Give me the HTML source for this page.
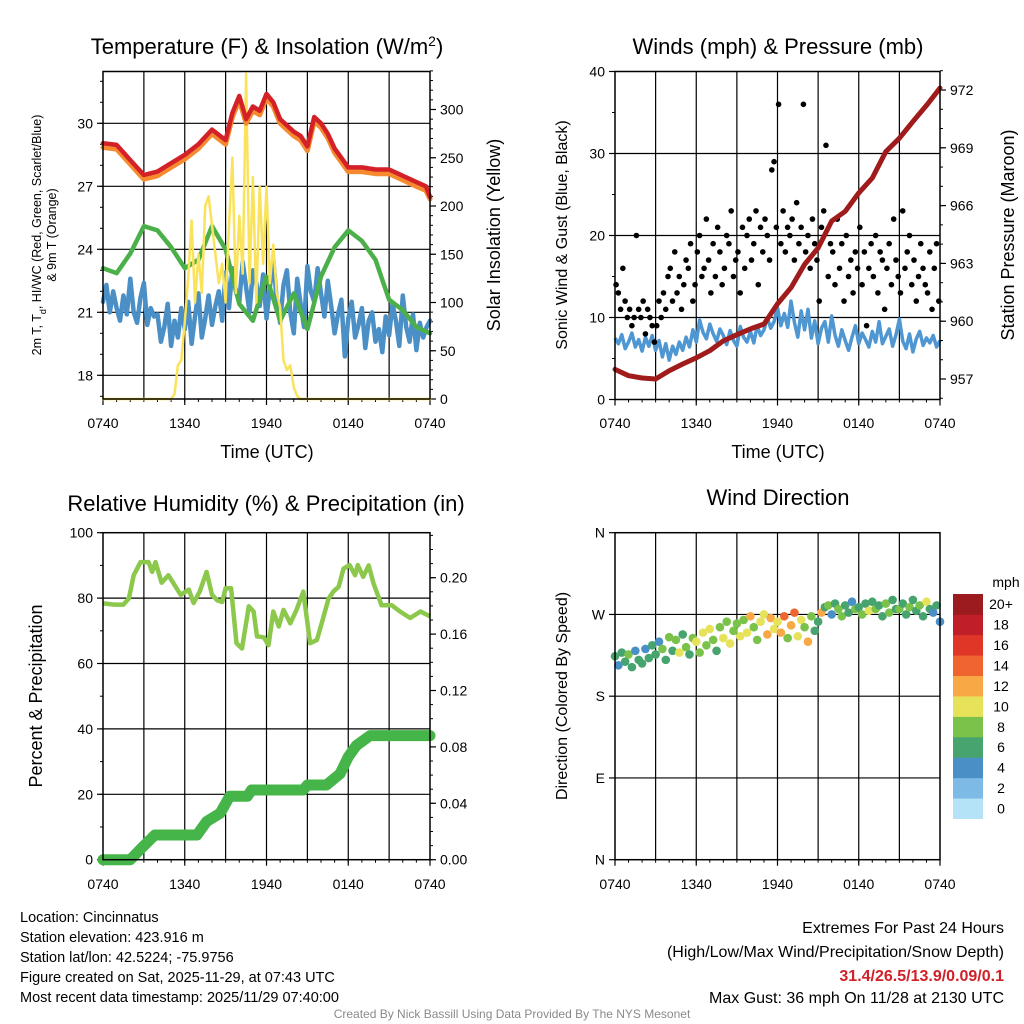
<!DOCTYPE html>
<html><head><meta charset="utf-8">
<style>
html,body{margin:0;padding:0;background:#fff;}
svg{display:block;font-family:"Liberation Sans",Arial,sans-serif;}
</style></head>
<body>
<svg id="chart" width="1024" height="1024" viewBox="0 0 1024 1024" xmlns="http://www.w3.org/2000/svg">
<rect width="1024" height="1024" fill="#fff"/>
<g id="layer"></g>
<text x="267" y="54" font-size="22" text-anchor="middle">Temperature (F) &amp; Insolation (W/m<tspan baseline-shift="super" font-size="14">2</tspan>)</text>
<text x="778" y="54" font-size="22" text-anchor="middle">Winds (mph) &amp; Pressure (mb)</text>
<text x="266" y="511" font-size="22" text-anchor="middle">Relative Humidity (%) &amp; Precipitation (in)</text>
<text x="778" y="505" font-size="22" text-anchor="middle">Wind Direction</text>
<text x="267" y="458" font-size="18" text-anchor="middle">Time (UTC)</text>
<text x="778" y="458" font-size="18" text-anchor="middle">Time (UTC)</text>
<text transform="translate(41,235) rotate(-90)" font-size="12.5" text-anchor="middle">2m T, T<tspan baseline-shift="sub" font-size="9">d</tspan>, HI/WC (Red, Green, Scarlet/Blue)</text>
<text transform="translate(56,235) rotate(-90)" font-size="12.5" text-anchor="middle">&amp; 9m T (Orange)</text>
<text transform="translate(500,235) rotate(-90)" font-size="18" text-anchor="middle">Solar Insolation (Yellow)</text>
<text transform="translate(567,235) rotate(-90)" font-size="16" text-anchor="middle">Sonic Wind &amp; Gust (Blue, Black)</text>
<text transform="translate(1014,235) rotate(-90)" font-size="18" text-anchor="middle">Station Pressure (Maroon)</text>
<text transform="translate(42,696) rotate(-90)" font-size="18" text-anchor="middle">Percent &amp; Precipitation</text>
<text transform="translate(567,696) rotate(-90)" font-size="16" text-anchor="middle">Direction (Colored By Speed)</text>
<g font-size="14.5">
<text x="20" y="922">Location: Cincinnatus</text>
<text x="20" y="942">Station elevation: 423.916 m</text>
<text x="20" y="962">Station lat/lon: 42.5224; -75.9756</text>
<text x="20" y="982">Figure created on Sat, 2025-11-29, at 07:43 UTC</text>
<text x="20" y="1002">Most recent data timestamp: 2025/11/29 07:40:00</text>
</g>
<g font-size="16" text-anchor="end">
<text x="1004" y="933">Extremes For Past 24 Hours</text>
<text x="1004" y="957">(High/Low/Max Wind/Precipitation/Snow Depth)</text>
<text x="1004" y="981" fill="#d02028" font-weight="bold">31.4/26.5/13.9/0.09/0.1</text>
<text x="1004" y="1003">Max Gust: 36 mph On 11/28 at 2130 UTC</text>
</g>
<text x="512" y="1018" font-size="12" fill="#8a8a8a" text-anchor="middle">Created By Nick Bassill Using Data Provided By The NYS Mesonet</text>
</svg>
<script>
const xTickLabels = ["0740","1340","1940","0140","0740"];
const redTimes = [0,1,2,3,4,5,6,7,8,9,9.5,10,10.5,11,11.5,12,12.5,13,14,14.5,15,15.5,16,16.5,17,18,19,20,21,22,23,23.7,24];
const redTemp  = [29.05,28.97,28.25,27.54,27.7,28.1,28.5,29.0,29.7,29.2,30.5,31.3,30.2,30.8,30.6,31.4,31.0,30.2,29.6,29.4,28.9,30.3,30.0,29.5,28.8,27.9,27.9,27.8,27.8,27.5,27.2,27.0,26.5];
const orangeTemp=[28.85,28.77,28.05,27.34,27.5,27.9,28.3,28.8,29.5,29.0,30.3,31.1,30.0,30.6,30.4,31.2,30.8,30.0,29.4,29.2,28.7,30.1,29.8,29.3,28.6,27.7,27.7,27.6,27.6,27.3,27.0,26.8,26.4];
const dewTimes = [0,1,2,3,4,5,6,7,8,9,10,11,12,13,14,15,16,17,18,19,20,21,22,23,24];
const dewTemp  = [23.1,22.86,23.8,25.1,24.9,24.1,23.1,23.5,25.1,24.0,21.4,20.6,22.7,20.6,21.9,20.2,22.7,24.1,24.9,24.4,23.5,21.6,21.1,20.3,20.0];
const windChill = [21.5,22.3,21.0,22.0,21.2,20.6,21.8,20.9,22.6,21.0,20.5,21.7,22.4,20.4,21.2,20.8,20.9,19.6,20.3,21.4,19.4,20.6,19.8,21.2,20.2,21.5,19.5,20.8,21.9,19.8,20.7,21.8,20.4,21.3,22.0,20.6,22.9,21.2,23.1,22.0,21.5,23.4,22.2,21.0,23.0,22.4,21.3,22.8,20.7,22.2,23.5,21.6,20.5,22.3,23.0,21.0,20.0,22.6,21.4,20.3,23.2,22.0,21.5,23.1,21.9,20.8,22.5,21.3,20.0,20.9,21.6,18.9,20.7,21.5,19.8,20.4,21.2,19.3,20.6,21.0,19.6,20.2,19.1,20.8,19.9,21.4,20.6,19.4,21.8,20.3,19.6,20.9,19.2,20.5,19.8,20.3,20.6];
const insolTimes = [0,5,5.25,5.5,5.75,6,6.25,6.5,6.75,7,7.25,7.5,7.75,8,8.25,8.5,8.75,9,9.25,9.5,9.75,10,10.25,10.5,10.75,11,11.25,11.5,11.75,12,12.25,12.5,12.75,13,13.25,13.5,13.75,14,14.25,14.5,24];
const insolVals  = [0,0,5,35,40,80,125,185,100,150,110,200,210,180,150,120,140,100,180,250,110,190,130,337,120,230,100,220,140,220,120,160,110,95,40,30,35,12,3,0,0];
const windSpeed = [7.5,6.8,7.9,6.2,7.0,8.1,6.4,7.3,5.9,7.6,6.5,7.8,6.0,7.2,5.2,6.8,4.8,6.5,5.5,7.0,6.0,7.6,6.4,8.5,7.0,9.7,8.2,7.4,9.2,8.0,7.1,8.6,7.8,6.7,8.4,7.2,6.5,8.9,7.6,7.0,8.3,6.9,9.0,7.8,8.5,10.0,8.7,9.5,11.2,9.0,10.5,8.8,12.0,9.4,7.6,10.8,8.5,11.0,7.5,9.6,6.8,8.7,9.5,7.0,10.2,7.8,6.5,8.5,7.2,6.0,7.6,9.0,6.8,8.1,7.3,6.4,8.3,7.0,9.5,6.8,7.7,8.6,6.5,7.9,9.8,7.1,6.2,8.0,5.8,7.4,8.3,6.6,7.5,6.9,7.8,6.4,7.2];
const gustSpeed = [14,13,11,16,12,10, 11,9,10,20,11,10, 12,8,11,10,9,7, 9,12,10,13,11,15, 16,12,18,13,15,11, 14,17,16,19,12,14, 18,20,15,16,22,17, 13,19,15,21,18,14, 16,20,19,23,15,17, 18,13,21,16,20,22, 17,19,23,14,21,18, 22,20,17,28,29,21, 36,19,23,18,21,20, 22,17,24,19,21,36, 18,20,16,22,19,17, 12,21,23,31,15,19, 18,14,22,16,19,12, 20,15,17,13,18,16, 21,14,18,9,16,19, 15,20,13,18,17,11, 16,19,14,22,17,15, 13,23,16,18,20,14, 17,12,15,19,16,14, 13,18,11,16,19,12];
const presTimes = [0,1,2,3,4,5,6,7,8,9,10,11,12,13,14,15,16,17,18,19,20,21,22,23,24];
const pressure  = [957.5,957.17,957.05,957.0,957.43,957.78,958.1,958.47,958.98,959.3,959.6,959.85,960.9,961.74,962.95,963.8,965.2,965.7,966.66,967.43,968.8,969.5,970.36,971.2,972.1];
const rhTimes = [0,0.8,1.5,1.9,2.25,2.75,3.35,3.6,3.85,4.3,4.8,5.7,6.3,6.65,7.1,7.6,8.0,8.4,8.75,9.0,9.4,9.8,10.2,10.7,11.05,11.3,11.8,12.15,12.5,12.9,13.25,13.75,14.2,14.7,15.2,15.7,16.05,16.55,16.9,17.3,17.65,18.1,18.5,18.7,19.1,19.5,19.85,20.45,21.2,21.8,22.55,23.3,24];
const rhVals  = [78.4,78,78,79.9,87,91,91,88,91,84.7,87,81,82.6,78.5,82,88,81,79.3,78.8,83,83,66.2,64.6,77.5,75.9,68.3,68,65.6,75.9,71.3,76.4,72.3,76.4,82,66.2,67.2,72.3,79.8,82,83.5,89,90.1,87,90.1,86.5,90,84.5,77.8,77.8,75.9,73.9,75.9,74.4];
const precipTimes = [0,2.0,2.8,3.8,6.9,7.6,8.6,9.3,10.6,10.9,14.7,15.0,16.4,17.4,18.0,18.6,19.6,24];
const precipVals  = [0,0,0.008,0.0175,0.0175,0.027,0.033,0.045,0.045,0.0494,0.0494,0.053,0.053,0.061,0.073,0.081,0.088,0.088];
const dirValues = [224,214,228,218,226,212,230,220,216,232,222,236, 226,240,232,220,245,230,242,228,248,234,226,244, 240,228,250,236,254,242,230,256,244,262,238,252, 260,246,264,250,268,256,242,262,270,248,266,254, 262,250,268,244,258,272,246,264,256,240,268,252, 262,272,278,280,270,282,276,268,280,272,284,276, 278,270,282,274,284,276,280,268,282,272,286,276, 276,282,270,278,286,274,280,268,284,276,272,280,262];
const dirSpeeds = [6,5,7,6,8,6,5,7,6,4,7,6, 7,5,8,7,9,6,8,10,7,8,6,9, 10,9,10,8,11,9,7,8,10,9,11,8, 9,10,8,10,12,8,9,11,10,13,12,11, 11,12,15,9,13,14,10,11,9,12,8,7, 6,12,7,8,5,7,8,9,7,6,5,8, 7,8,6,10,7,8,6,7,9,8,7,6, 8,7,6,9,7,6,8,7,10,6,4,7,4];
const speedColors = ["#b4e3f7","#7dbbe6","#4a8fc6","#48a46f","#7bc24a","#e6e25a","#f8a845","#f06430","#e03628","#c11f28","#9b1b1e"];
const colorbarLabels = ["0","2","4","6","8","10","12","14","16","18","20+"];

const NS="http://www.w3.org/2000/svg";
const layer=document.getElementById('layer');
function mk(tag,attrs,parent){const e=document.createElementNS(NS,tag);for(const k in attrs)e.setAttribute(k,attrs[k]);(parent||layer).appendChild(e);return e;}
function lin(d0,d1,r0,r1){return v=>r0+(v-d0)*(r1-r0)/(d1-d0);}
function path(xs,ys,fx,fy){return xs.map((t,i)=>(i?'L':'M')+fx(t).toFixed(1)+','+fy(ys[i]).toFixed(1)).join('');}
function evenTimes(n){return Array.from({length:n},(_,i)=>i*24/(n-1));}
function frame(name){
  const g=mk('g',{});
  
  
  return g;
}
function xAxis(g,x0,x1,y1,labY,panel){
  const fx=lin(0,24,x0,x1);
  for(let h=3;h<24;h+=3){mk('line',{x1:fx(h),x2:fx(h),y1:y1,y2:0,stroke:'#000','stroke-width':1.2},g);}
  xTickLabels.forEach((lab,i)=>{
    const t=mk('text',{x:fx(i*6),y:labY,'font-size':14,'text-anchor':'middle'});
    t.textContent=lab;
    
    
    mk('line',{x1:fx(i*6),x2:fx(i*6),y1:y1,y2:y1+6,stroke:'#000','stroke-width':1.2});
  });
  for(let h=0;h<=24;h+=1){mk('line',{x1:fx(h),x2:fx(h),y1:y1,y2:y1+3,stroke:'#000','stroke-width':1});}
  return fx;
}
function yTicks(side,x,vals,fy,labels,fs,minorVals,panel){
  vals.forEach((v,i)=>{
    const y=fy(v);
    mk('line',{x1:x,x2:side==='l'?x-6:x+6,y1:y,y2:y,stroke:'#000','stroke-width':1.2});
    const t=mk('text',{x:side==='l'?x-10:x+10,y:y+5,'font-size':fs,'text-anchor':side==='l'?'end':'start'});
    t.textContent=labels[i];
    
    
  });
  (minorVals||[]).forEach(v=>{const y=fy(v);mk('line',{x1:x,x2:side==='l'?x-3:x+3,y1:y,y2:y,stroke:'#000','stroke-width':1});});
}
function hgrid(x0,x1,ys){ys.forEach(y=>mk('line',{x1:x0,x2:x1,y1:y,y2:y,stroke:'#000','stroke-width':1.2}));}
function box(x0,y0,x1,y1){mk('rect',{x:x0,y:y0,width:x1-x0,height:y1-y0,fill:'none',stroke:'#000','stroke-width':1.5});}
function fixGrid(g,y0){g.querySelectorAll('line').forEach(l=>{if(l.getAttribute('y2')==='0')l.setAttribute('y2',y0);});}
function range(a,b,s){const r=[];for(let v=a;v<=b+1e-9;v+=s)r.push(+v.toFixed(4));return r;}

(function(){
  const x0=103,x1=430,y0=71.5,y1=399;
  const fyT=lin(18,30,375.3,123.3);
  const fyS=lin(0,300,399,109.5);
  const g=frame('temperature');
  const fx=xAxis(g,x0,x1,y1,428,'temperature');fixGrid(g,y0);
  hgrid(x0,x1,[18,21,24,27,30].map(fyT));
  yTicks('l',x0,[18,21,24,27,30],fyT,["18","21","24","27","30"],14,range(17,32,1),'temperature');
  yTicks('r',x1,[0,50,100,150,200,250,300],fyS,["0","50","100","150","200","250","300"],14,range(0,340,10),'insolation');
  const s=mk('g',{fill:'none','stroke-linejoin':'round','stroke-linecap':'round'});
  let e;
  e=mk('path',{d:path(evenTimes(windChill.length),windChill,fx,fyT),stroke:'#4a8fc6','stroke-width':4.5},s);
  
  e=mk('path',{d:path(dewTimes,dewTemp,fx,fyT),stroke:'#4cb04a','stroke-width':4.5},s);
  
  e=mk('path',{d:path(insolTimes,insolVals,fx,fyS),stroke:'#fae35a','stroke-width':2.5},s);
  
  e=mk('path',{d:path(redTimes,orangeTemp,fx,fyT),stroke:'#f58a2e','stroke-width':5},s);
  
  e=mk('path',{d:path(redTimes,redTemp,fx,fyT),stroke:'#d42127','stroke-width':4.5},s);
  
  box(x0,y0,x1,y1);
})();

(function(){
  const x0=615,x1=940,y0=71.5,y1=399.5;
  const fyW=lin(0,40,399.5,71.5);
  const fyP=lin(957,972,379,90);
  const g=frame('winds');
  const fx=xAxis(g,x0,x1,y1,428,'winds');fixGrid(g,y0);
  hgrid(x0,x1,[10,20,30].map(fyW));
  yTicks('l',x0,[0,10,20,30,40],fyW,["0","10","20","30","40"],14,range(0,40,5),'wind');
  yTicks('r',x1,[957,960,963,966,969,972],fyP,["957","960","963","966","969","972"],14,range(956,973,1),'pressure');
  let e;
  e=mk('path',{d:path(evenTimes(windSpeed.length),windSpeed,fx,fyW),fill:'none',stroke:'#4f97d2','stroke-width':3.5,'stroke-linejoin':'round'});
  
  const gg=mk('g',{fill:'#000'});
  
  gustSpeed.forEach((v,i)=>{mk('circle',{cx:fx(i*24/gustSpeed.length+0.08),cy:fyW(v),r:2.8},gg);});
  e=mk('path',{d:path(presTimes,pressure,fx,fyP),fill:'none',stroke:'#a01c1c','stroke-width':5,'stroke-linejoin':'round','stroke-linecap':'round'});
  
  box(x0,y0,x1,y1);
})();

(function(){
  const x0=103,x1=430,y0=532.7,y1=859.7;
  const fyR=lin(0,100,859.7,532.7);
  const fyP=lin(0,0.2,859.7,577.7);
  const g=frame('humidity');
  const fx=xAxis(g,x0,x1,y1,889,'humidity');fixGrid(g,y0);
  hgrid(x0,x1,[20,40,60,80].map(fyR));
  yTicks('l',x0,[0,20,40,60,80,100],fyR,["0","20","40","60","80","100"],14,range(0,100,10),'humidity');
  yTicks('r',x1,[0,0.04,0.08,0.12,0.16,0.2],fyP,["0.00","0.04","0.08","0.12","0.16","0.20"],14,range(0,0.23,0.01),'precipitation');
  let e;
  e=mk('path',{d:path(rhTimes,rhVals,fx,fyR),fill:'none',stroke:'#8cc84b','stroke-width':4.5,'stroke-linejoin':'round'});
  
  e=mk('path',{d:path(precipTimes,precipVals,fx,fyP),fill:'none',stroke:'#46b549','stroke-width':11,'stroke-linejoin':'round','stroke-linecap':'round'});
  
  box(x0,y0,x1,y1);
})();

(function(){
  const x0=615,x1=940,y0=532.7,y1=859.7;
  const fyD=lin(0,360,859.7,532.7);
  const g=frame('direction');
  const fx=xAxis(g,x0,x1,y1,889,'direction');fixGrid(g,y0);
  hgrid(x0,x1,[90,180,270].map(fyD));
  yTicks('l',x0,[0,90,180,270,360],fyD,["N","E","S","W","N"],14,[],'direction');
  const gg=mk('g',{});
  
  dirValues.forEach((d,i)=>{
    const b=Math.min(10,Math.floor(dirSpeeds[i]/2));
    mk('circle',{cx:fx(i*24/(dirValues.length-1)),cy:fyD(d),r:4.3,fill:speedColors[b]},gg);
  });
  box(x0,y0,x1,y1);
  const cb=mk('g',{});
  
  const bh=224.7/speedColors.length;
  speedColors.forEach((c,i)=>{
    const y=818.7-(i+1)*bh;
    mk('rect',{x:953,y:y,width:30,height:bh+0.3,fill:c},cb);
    const t=mk('text',{x:1001,y:y+bh/2+5,'font-size':14,'text-anchor':'middle'},cb);
    t.textContent=colorbarLabels[i];
  });
  const u=mk('text',{x:1006,y:587,'font-size':14,'text-anchor':'middle'},cb);u.textContent='mph';
})();
</script>
</body></html>
